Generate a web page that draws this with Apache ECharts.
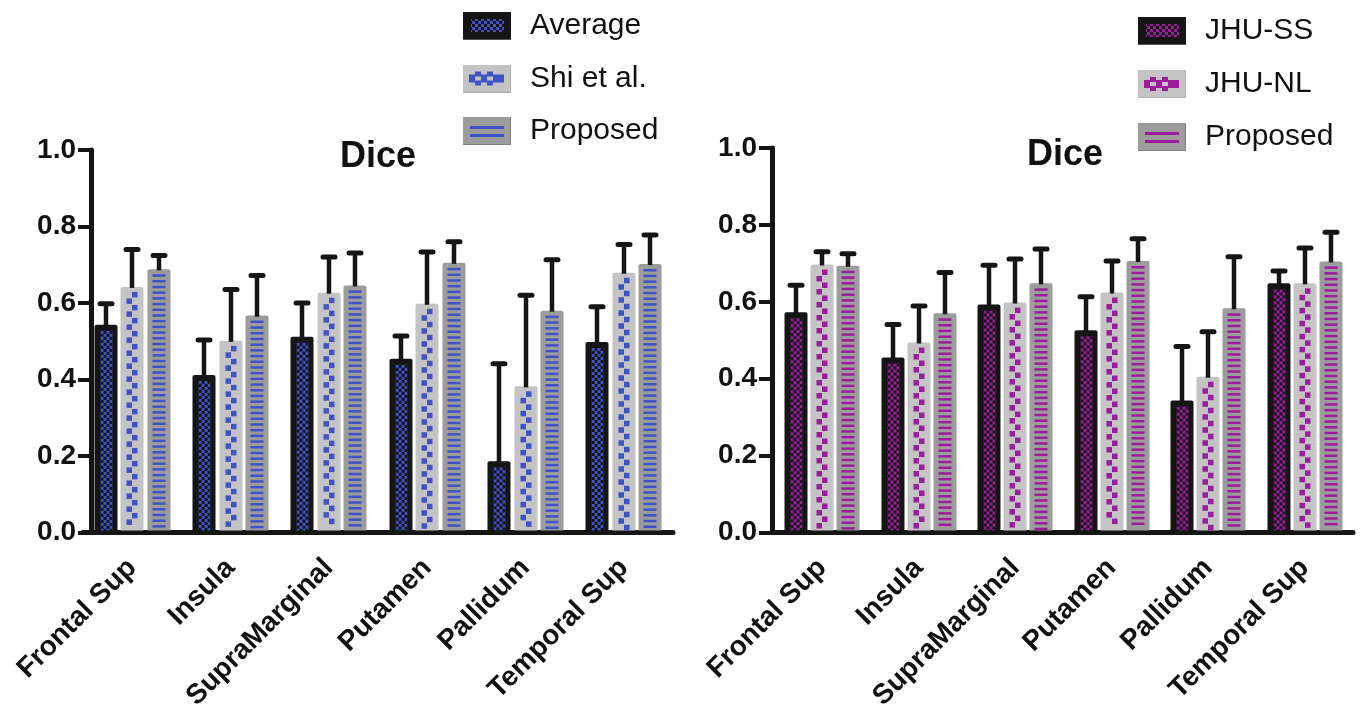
<!DOCTYPE html>
<html>
<head>
<meta charset="utf-8">
<style>
html,body{margin:0;padding:0;background:#fff;}
#c{width:1360px;height:713px;}
</style>
<script src="https://cdn.jsdelivr.net/npm/echarts@6/dist/echarts.min.js"></script>
</head>
<body>
<div id="c"></div>
<script>
// ---- data ----
const categories = ['Frontal Sup', 'Insula', 'SupraMarginal', 'Putamen', 'Pallidum', 'Temporal Sup'];
const yTicks = [0, 0.2, 0.4, 0.6, 0.8, 1.0];

// left panel
const avgMean  = [0.543, 0.412, 0.512, 0.454, 0.186, 0.498];
const avgTop   = [0.598, 0.503, 0.600, 0.514, 0.441, 0.590];
const shiMean  = [0.642, 0.501, 0.627, 0.598, 0.382, 0.679];
const shiTop   = [0.740, 0.635, 0.720, 0.733, 0.620, 0.753];
const propMean = [0.688, 0.567, 0.646, 0.705, 0.580, 0.702];
const propTop  = [0.724, 0.672, 0.731, 0.760, 0.713, 0.778];

// right panel
const ssMean    = [0.573, 0.455, 0.593, 0.526, 0.343, 0.648];
const ssTop     = [0.643, 0.541, 0.695, 0.613, 0.484, 0.680];
const nlMean    = [0.697, 0.494, 0.598, 0.624, 0.405, 0.648];
const nlTop     = [0.730, 0.589, 0.711, 0.706, 0.522, 0.740];
const prop2Mean = [0.694, 0.570, 0.648, 0.706, 0.583, 0.705];
const prop2Top  = [0.725, 0.676, 0.737, 0.764, 0.717, 0.781];

// ---- styles ----
const BLUE = '#3f52c6';
const MAG = '#9c1d9c';
const BLACK = '#151515';
const LGRAY = '#c4c4c4';
const MGRAY = '#9c9c9c';
const FONT = 'Arial, "Liberation Sans", sans-serif';

function checker(color, cell) {
  const c = document.createElement('canvas');
  c.width = c.height = cell * 2;
  const g = c.getContext('2d');
  g.fillStyle = BLACK; g.fillRect(0, 0, cell * 2, cell * 2);
  g.fillStyle = color;
  g.fillRect(0, 0, cell, cell); g.fillRect(cell, cell, cell, cell);
  return c;
}
const patBlue = checker(BLUE, 3);
const patMag = checker(MAG, 3);

function legendIcon(kind, color) {
  const c = document.createElement('canvas');
  c.width = 62; c.height = 28;
  const g = c.getContext('2d');
  if (kind === 'avg') {
    g.fillStyle = BLACK; g.fillRect(0, 0, 48, 28);
    g.fillStyle = '#555'; g.fillRect(0, 27, 48, 1);
    const p = g.createPattern(checker(color, 3), 'repeat');
    g.fillStyle = p; g.fillRect(8, 7, 33, 13);
  } else if (kind === 'shi') {
    g.fillStyle = LGRAY; g.fillRect(0, 0, 48, 28);
    g.fillStyle = '#b0b0b0'; g.fillRect(0, 27, 48, 1); g.fillRect(47, 0, 1, 28);
    g.fillStyle = color;
    g.fillRect(6, 10, 6, 8); g.fillRect(12, 7, 6, 5); g.fillRect(12, 16, 6, 5);
    g.fillRect(18, 10, 6, 8);
    g.fillRect(24, 7, 6, 5); g.fillRect(24, 16, 6, 5);
    g.fillRect(30, 10, 6, 8); g.fillRect(36, 10, 5, 8);
  } else {
    g.fillStyle = MGRAY; g.fillRect(0, 0, 48, 28);
    g.fillStyle = '#808080'; g.fillRect(0, 27, 48, 1); g.fillRect(47, 0, 1, 28);
    g.fillStyle = color;
    g.fillRect(7, 9, 34, 3); g.fillRect(7, 17, 34, 3);
  }
  return 'image://' + c.toDataURL();
}

function makeRender(kind, color, k, pattern) {
  return function (params, api) {
    const ci = api.value(0), v = api.value(1), e = api.value(2);
    const base = api.coord([ci, 0]);
    const top = api.coord([ci, v]);
    const et = api.coord([ci, e]);
    const band = api.size([1, 0])[0];
    const bw = Math.round(band * 0.235);
    const pitch = band * 0.268;
    const cx = Math.round(base[0] + (k - 1) * pitch);
    const x0 = cx - bw / 2;
    const yB = base[1] - 2;
    const yT = top[1];
    const children = [];
    if (kind === 'avg') {
      children.push({ type: 'rect', shape: { x: x0, y: yT, width: bw, height: yB - yT, r: [2, 2, 0, 0] }, style: { fill: BLACK } });
      children.push({ type: 'rect', x: x0 + 6, y: yT + 6, shape: { x: 0, y: 0, width: bw - 11, height: Math.max(0, yB - yT - 6) }, style: { fill: { image: pattern, repeat: 'repeat' } } });
    } else if (kind === 'shi') {
      children.push({ type: 'rect', shape: { x: x0, y: yT, width: bw, height: yB - yT, r: [2, 2, 0, 0] }, style: { fill: LGRAY } });
      const sz = 5.5, step = 6.5;
      let i = 0;
      for (let yy = yT + 5; yy + sz <= yB; yy += step, i++) {
        const xx = (i % 2 === 0) ? cx : cx - sz;
        children.push({ type: 'rect', shape: { x: xx, y: yy, width: sz, height: sz }, style: { fill: color } });
      }
    } else {
      children.push({ type: 'rect', shape: { x: x0, y: yT, width: bw, height: yB - yT, r: [2, 2, 0, 0] }, style: { fill: MGRAY } });
      for (let yy = yT + 5; yy + 2.5 <= yB; yy += 5.7) {
        children.push({ type: 'rect', shape: { x: cx - 6.5, y: yy, width: 13, height: 2.5 }, style: { fill: color } });
      }
    }
    children.push({ type: 'line', shape: { x1: cx, y1: yT + 1, x2: cx, y2: et[1] }, style: { stroke: BLACK, lineWidth: 4.5 } });
    children.push({ type: 'line', shape: { x1: cx - 6, y1: et[1], x2: cx + 6, y2: et[1] }, style: { stroke: BLACK, lineWidth: 5, lineCap: 'round' } });
    return { type: 'group', children: children };
  };
}

function rows(mean, top) {
  return mean.map((m, i) => [i, m, top[i]]);
}

function xAxisCfg(gi) {
  return {
    type: 'category', gridIndex: gi, data: categories,
    axisLine: { lineStyle: { color: BLACK, width: 5 } },
    axisTick: { alignWithLabel: true, length: 11, lineStyle: { color: BLACK, width: 4 } },
    axisLabel: { interval: 0, rotate: 45, margin: 31, color: '#111', fontSize: 28, fontWeight: 'bold', fontFamily: FONT }
  };
}
function yAxisCfg(gi, off) {
  return {
    type: 'value', gridIndex: gi, min: yTicks[0], max: yTicks[yTicks.length - 1], interval: 0.2, offset: off,
    axisLine: { show: true, lineStyle: { color: BLACK, width: 5 } },
    axisTick: { show: true, length: 13, lineStyle: { color: BLACK, width: 4 } },
    splitLine: { show: false },
    axisLabel: { margin: 15, color: '#111', fontSize: 28, fontWeight: 'bold', fontFamily: FONT, formatter: v => v.toFixed(1) }
  };
}

const chart = echarts.init(document.getElementById('c'), null, { renderer: 'canvas' });

const series = [
  { name: 'Average', type: 'custom', xAxisIndex: 0, yAxisIndex: 0, renderItem: makeRender('avg', BLUE, 0, patBlue), encode: { x: 0, y: [1, 2] }, data: rows(avgMean, avgTop) },
  { name: 'Shi et al.', type: 'custom', xAxisIndex: 0, yAxisIndex: 0, renderItem: makeRender('shi', BLUE, 1), encode: { x: 0, y: [1, 2] }, data: rows(shiMean, shiTop) },
  { name: 'Proposed', type: 'custom', xAxisIndex: 0, yAxisIndex: 0, renderItem: makeRender('prop', BLUE, 2), encode: { x: 0, y: [1, 2] }, data: rows(propMean, propTop) },
  { name: 'JHU-SS', type: 'custom', xAxisIndex: 1, yAxisIndex: 1, renderItem: makeRender('avg', MAG, 0, patMag), encode: { x: 0, y: [1, 2] }, data: rows(ssMean, ssTop) },
  { name: 'JHU-NL', type: 'custom', xAxisIndex: 1, yAxisIndex: 1, renderItem: makeRender('shi', MAG, 1), encode: { x: 0, y: [1, 2] }, data: rows(nlMean, nlTop) },
  { name: 'Proposed ', type: 'custom', xAxisIndex: 1, yAxisIndex: 1, renderItem: makeRender('prop', MAG, 2), encode: { x: 0, y: [1, 2] }, data: rows(prop2Mean, prop2Top) }
];

const legendText = { color: '#111', fontSize: 30, fontFamily: FONT, lineHeight: 30 };

chart.setOption({
  animation: false,
  backgroundColor: '#fff',
  title: [
    { text: 'Dice', left: 340, top: 139, padding: 0, textStyle: { fontSize: 36, fontWeight: 'bold', color: '#111', fontFamily: FONT } },
    { text: 'Dice', left: 1027, top: 137, padding: 0, textStyle: { fontSize: 36, fontWeight: 'bold', color: '#111', fontFamily: FONT } }
  ],
  legend: [
    { orient: 'vertical', left: 463, top: 11, padding: 0, itemWidth: 62, itemHeight: 28, itemGap: 22.5, selectedMode: false, textStyle: legendText,
      data: [
        { name: 'Average', icon: legendIcon('avg', BLUE) },
        { name: 'Shi et al.', icon: legendIcon('shi', BLUE) },
        { name: 'Proposed', icon: legendIcon('prop', BLUE) }
      ] },
    { orient: 'vertical', left: 1138, top: 16, padding: 0, itemWidth: 62, itemHeight: 28, itemGap: 23, selectedMode: false, textStyle: legendText,
      formatter: n => n.trim(),
      data: [
        { name: 'JHU-SS', icon: legendIcon('avg', MAG) },
        { name: 'JHU-NL', icon: legendIcon('shi', MAG) },
        { name: 'Proposed ', icon: legendIcon('prop', MAG) }
      ] }
  ],
  grid: [
    { left: 83, width: 590, top: 150, height: 384 },
    { left: 774, width: 579, top: 148, height: 387 }
  ],
  xAxis: [xAxisCfg(0), xAxisCfg(1)],
  yAxis: [yAxisCfg(0, -8), yAxisCfg(1, 2)],
  series: series
});
</script>
</body>
</html>
